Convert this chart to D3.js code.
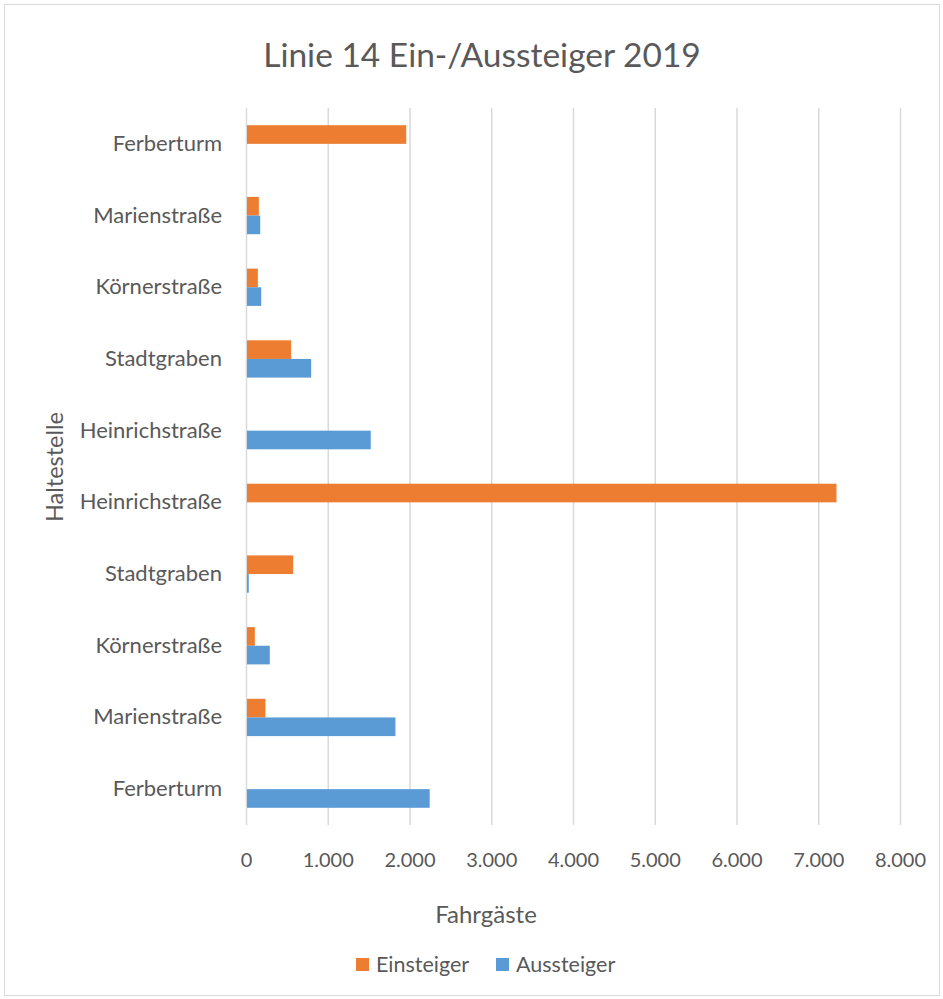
<html>
<head>
<meta charset="utf-8">
<style>
    body { margin: 0; background: #fff; }
    svg { font-family: "Lato", "Open Sans", sans-serif; color: #595959; }
    .x .domain, .y .domain { display: none; }
    .grid .tick line { stroke: #d9d9d9; stroke-width: 1.5; }
    .grid text { display: none; }
</style>
</head>
<body>
<div id="chart"></div>
<script src="https://d3js.org/d3.v7.min.js"></script>
<script>

// stops, top to bottom as shown in the chart
let stops = ["Ferberturm", "Marienstraße", "Körnerstraße", "Stadtgraben", "Heinrichstraße",
             "Heinrichstraße", "Stadtgraben", "Körnerstraße", "Marienstraße", "Ferberturm"]
let einsteiger = [1960, 157, 145, 552, 0, 7223, 577, 108, 238, 0]
let aussteiger = [0, 174, 186, 797, 1526, 0, 34, 291, 1828, 2247]
let seriesNames = ["Einsteiger", "Aussteiger"]
let seriesColors = ["#ED7D31", "#5B9BD5"]
let xTicks = [0, 1000, 2000, 3000, 4000, 5000, 6000, 7000, 8000]

let width = 943
let height = 999
let margin = {top: 108, right: 42, bottom: 174, left: 246}

let de = d3.formatLocale({decimal: ",", thousands: ".", grouping: [3], currency: ["", " €"]})
let fmt = de.format(",d")

let svg = d3.select("#chart")
    .append("svg")
    .attr("width", width)
    .attr("height", height)

// outer frame
svg.append("rect")
    .attr("x", 4.5).attr("y", 4.5)
    .attr("width", 935).attr("height", 991)
    .attr("fill", "#fff")
    .attr("stroke", "#d9d9d9")

let x = d3.scaleLinear()
    .domain([0, 8000])
    .range([margin.left, width - margin.right - 1])

let y = d3.scaleBand()
    .domain(d3.range(stops.length))
    .range([margin.top, height - margin.bottom])
    .paddingInner(0.48)
    .paddingOuter(0.24)

let ySub = d3.scaleBand()
    .domain(seriesNames)
    .range([0, y.bandwidth()])

// gridlines
svg.append("g")
    .attr("class", "grid")
    .attr("transform", `translate(0, ${height - margin.bottom})`)
    .call(d3.axisBottom(x).tickValues(xTicks).tickSize(-(height - margin.bottom - margin.top)).tickFormat(""))
    .select(".domain").remove()

// tick labels
svg.append("g")
    .attr("class", "x axis")
    .attr("transform", `translate(0, ${height - margin.bottom})`)
    .call(d3.axisBottom(x).tickValues(xTicks).tickSize(0).tickPadding(28).tickFormat(fmt))
    .selectAll("text")
    .style("font-size", "20px")
    .style("font-family", "Lato, sans-serif")
    .attr("fill", "#595959")

// category labels
svg.append("g")
    .attr("class", "y axis")
    .attr("transform", `translate(${margin.left}, 0)`)
    .call(d3.axisLeft(y).tickSize(0).tickPadding(24).tickFormat(i => stops[i]))
    .selectAll("text")
    .style("font-size", "22px")
    .style("font-family", "Lato, sans-serif")
    .attr("fill", "#595959")

// bars
let rows = stops.map((s, i) => ({i: i, values: [einsteiger[i], aussteiger[i]]}))

svg.append("g")
    .attr("class", "bars")
    .selectAll("g")
    .data(rows)
    .join("g")
    .attr("transform", d => `translate(0, ${y(d.i)})`)
    .selectAll("rect")
    .data(d => d.values.map((v, k) => ({name: seriesNames[k], value: v, color: seriesColors[k]})))
    .join("rect")
    .attr("x", x(0) + 1)
    .attr("y", d => ySub(d.name))
    .attr("width", d => Math.max(0, x(d.value) - x(0) - 1))
    .attr("height", ySub.bandwidth())
    .attr("fill", d => d.color)

// title
svg.append("text")
    .attr("x", 482)
    .attr("y", 67)
    .attr("text-anchor", "middle")
    .style("font-size", "33.5px")
    .attr("fill", "#595959")
    .text("Linie 14 Ein-/Aussteiger 2019")

// axis titles
svg.append("text")
    .attr("x", 486)
    .attr("y", 923)
    .attr("text-anchor", "middle")
    .style("font-size", "24px")
    .attr("fill", "#595959")
    .text("Fahrgäste")

svg.append("text")
    .attr("transform", "translate(63, 467) rotate(-90)")
    .attr("text-anchor", "middle")
    .style("font-size", "23.5px")
    .attr("fill", "#595959")
    .text("Haltestelle")

// legend
let legend = svg.append("g")
    .attr("class", "legend")
    .selectAll("g")
    .data(seriesNames)
    .join("g")
    .attr("transform", (d, k) => `translate(${[356, 496][k]}, 958)`)

legend.append("rect")
    .attr("width", 13)
    .attr("height", 13)
    .attr("fill", (d, k) => seriesColors[k])

legend.append("text")
    .attr("x", 20)
    .attr("y", 14)
    .style("font-size", "21.5px")
    .attr("fill", "#595959")
    .text(d => d)

</script>
</body>
</html>
